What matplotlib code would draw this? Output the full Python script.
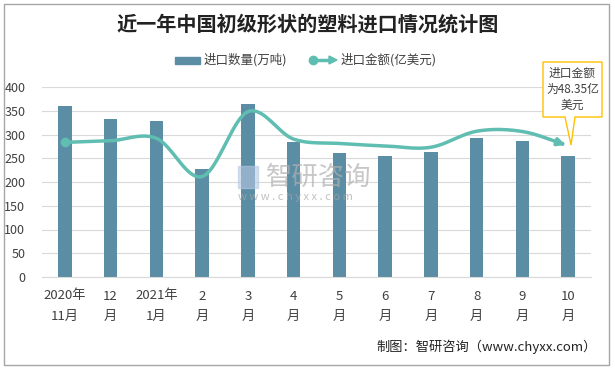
import numpy as np
import matplotlib
matplotlib.use("Agg")
import matplotlib.pyplot as plt
from matplotlib.patches import Rectangle, FancyArrowPatch, Polygon
from matplotlib.lines import Line2D

plt.rcParams['font.family'] = ['Noto Sans CJK SC', 'DejaVu Sans']

# data
months = ["2020年\n11月", "12\n月", "2021年\n1月", "2\n月", "3\n月", "4\n月",
          "5\n月", "6\n月", "7\n月", "8\n月", "9\n月", "10\n月"]
quantity = [360, 332, 328, 227, 364, 284, 261, 255, 263, 293, 286, 255]   # 万吨
amount = [49.6, 50.2, 51.1, 37.0, 60.9, 50.8, 49.2, 48.3, 47.8, 53.7, 53.6, 48.35]  # 亿美元
y_ticks = [0, 50, 100, 150, 200, 250, 300, 350, 400]

bar_color = "#5b8da5"
line_color = "#5fbdb1"
text_color = "#404040"


def smooth(xs, ys, n=20):
    # Catmull-Rom through the points, roughly like Excel's smoothed line
    xs = np.asarray(xs, float)
    ys = np.asarray(ys, float)
    px = np.concatenate([[2 * xs[0] - xs[1]], xs, [2 * xs[-1] - xs[-2]]])
    py = np.concatenate([[2 * ys[0] - ys[1]], ys, [2 * ys[-1] - ys[-2]]])
    ox, oy = [], []
    t = np.linspace(0, 1, n, endpoint=False)
    for i in range(1, len(px) - 2):
        for p, o in ((px, ox), (py, oy)):
            p0, p1, p2, p3 = p[i - 1], p[i], p[i + 1], p[i + 2]
            o.extend(0.5 * (2 * p1 + (-p0 + p2) * t
                            + (2 * p0 - 5 * p1 + 4 * p2 - p3) * t ** 2
                            + (-p0 + 3 * p1 - 3 * p2 + p3) * t ** 3))
    ox.append(xs[-1])
    oy.append(ys[-1])
    return np.array(ox), np.array(oy)


fig = plt.figure(figsize=(6.15, 3.69), dpi=100)
W, H = 615, 369
ax = fig.add_axes([42 / W, 1 - 277 / H, 549 / W, 190 / H])

x = np.arange(len(months))
ax.bar(x, quantity, width=0.29, color=bar_color, zorder=2)
ax.set_xlim(-0.5, len(months) - 0.5)
ax.set_ylim(0, 400)
ax.set_yticks(y_ticks)
ax.grid(axis='y', color="#d9d9d9", linewidth=0.8, zorder=0)
for s in ["top", "right", "left"]:
    ax.spines[s].set_visible(False)
ax.spines["bottom"].set_color("#d9d9d9")
ax.tick_params(axis='both', length=0, labelsize=9, colors=text_color)
ax.tick_params(axis='y', pad=12)
ax.tick_params(axis='x', pad=9)
ax.set_xticks(x)
ax.set_xticklabels(months, fontsize=9.5, linespacing=1.75)

ax2 = ax.twinx()
ax2.set_ylim(0, 70)
ax2.axis("off")
sx, sy = smooth(x, amount)
ax2.plot(sx[:-4], sy[:-4], color=line_color, linewidth=2.5, zorder=3,
         solid_capstyle='round')
ax2.plot(x[0], amount[0], 'o', color=line_color, markersize=6, zorder=4)
ax2.add_patch(FancyArrowPatch((sx[-5], sy[-5]), (sx[-1], sy[-1]),
                              arrowstyle='-|>', mutation_scale=11,
                              color=line_color, linewidth=2.5, zorder=4))

# title
fig.text(0.5, 1 - 24 / H, "近一年中国初级形状的塑料进口情况统计图", ha='center',
         va='center', fontsize=14.5, fontweight='bold', color="#222222")

# legend
fig.patches.append(Rectangle((175 / W, 1 - 64 / H), 25 / W, 7 / H,
                             transform=fig.transFigure, color=bar_color))
fig.text(204 / W, 1 - 60 / H, "进口数量(万吨)", va='center', fontsize=9,
         color=text_color)
fig.lines.append(Line2D([313 / W, 330 / W], [1 - 60 / H] * 2,
                        transform=fig.transFigure, color=line_color,
                        linewidth=2.5, marker='o', markevery=[0], markersize=6))
fig.patches.append(Polygon([[329 / W, 1 - 56 / H], [337 / W, 1 - 60 / H],
                            [329 / W, 1 - 64 / H]], closed=True,
                           transform=fig.transFigure, color=line_color))
fig.text(341 / W, 1 - 60 / H, "进口金额(亿美元)", va='center', fontsize=9,
         color=text_color)

# callout for last point
bx0, by0, bx1, by1 = 543, 62, 602, 117
box = Polygon([[bx0 / W, 1 - by0 / H], [bx1 / W, 1 - by0 / H],
               [bx1 / W, 1 - by1 / H], [575 / W, 1 - by1 / H],
               [571 / W, 1 - 145 / H], [565 / W, 1 - by1 / H],
               [bx0 / W, 1 - by1 / H]], closed=True, transform=fig.transFigure,
              facecolor='white', edgecolor="#ffc000", linewidth=1, zorder=5)
fig.patches.append(box)
fig.text((bx0 + bx1) / 2 / W, 1 - (by0 + by1) / 2 / H, "进口金额\n为48.35亿\n美元",
         ha='center', va='center', fontsize=8.5, color=text_color,
         linespacing=1.3, zorder=6)

# watermark
fig.patches.append(Rectangle((238 / W, 1 - 188 / H), 20 / W, 22 / H,
                             transform=fig.transFigure, color="#b7c9e2",
                             alpha=0.6, zorder=1))
fig.text(266 / W, 1 - 177 / H, "智研咨询", va='center', fontsize=19,
         color="#b0b0b0", alpha=0.7)
fig.text(238 / W, 1 - 197 / H, "w w w . c h y x x . c o m", va='center',
         fontsize=8, color="#a6a6a6", alpha=0.7)

# source line
fig.text(597 / W, 1 - 347 / H, "制图：智研咨询（www.chyxx.com）", ha='right',
         va='center', fontsize=9.5, color="#222222")

# outer frame
fig.patches.append(Rectangle((4 / W, 4 / H), 605 / W, 361 / H,
                             transform=fig.transFigure, fill=False,
                             edgecolor="#a6a6a6", linewidth=1))

fig.savefig("out.png", dpi=100)
